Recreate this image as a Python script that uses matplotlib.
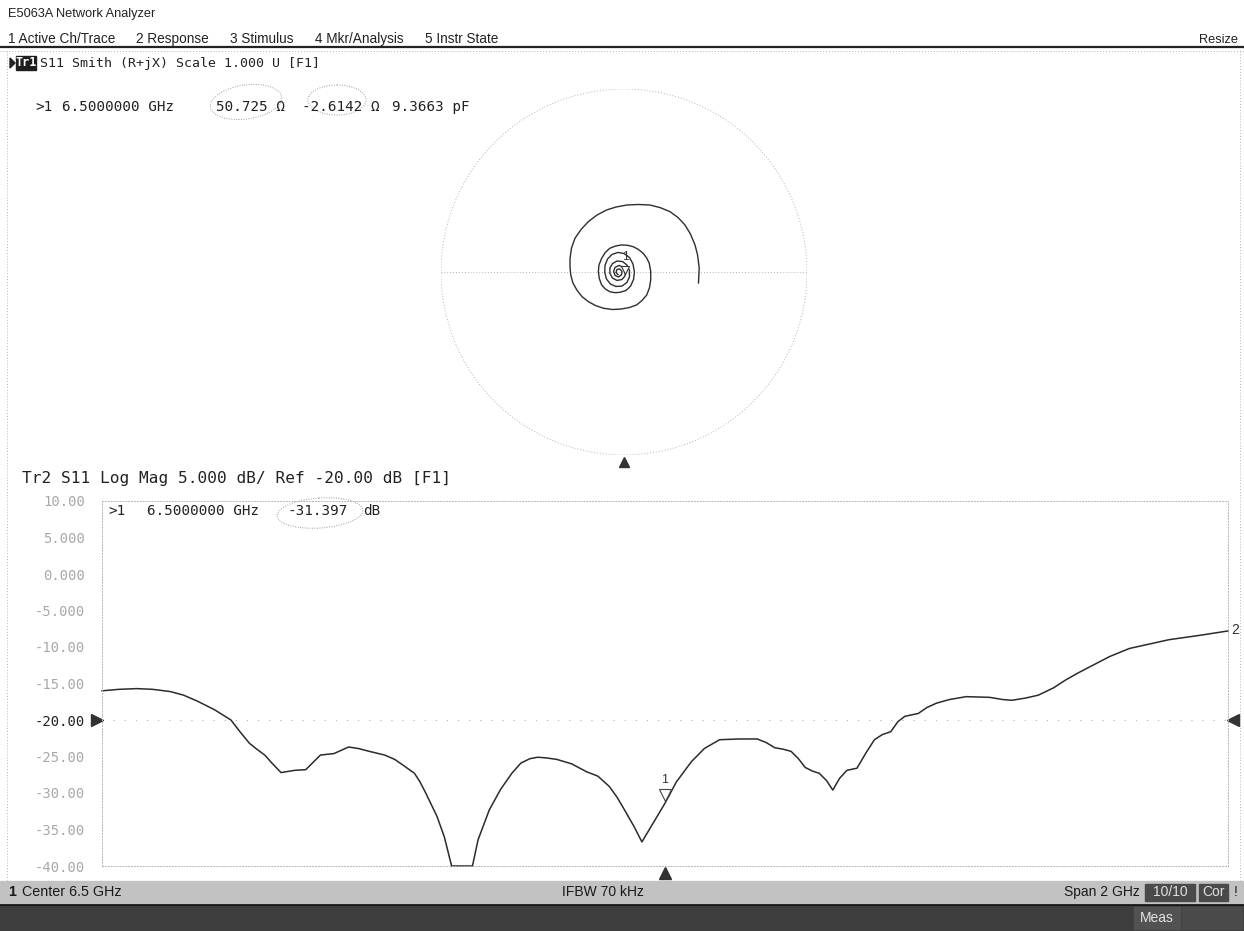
import matplotlib
matplotlib.use('Agg')
import matplotlib.pyplot as plt
from matplotlib.patches import Rectangle, Circle, Polygon, Ellipse
import matplotlib.transforms as mtransforms

# ---------------- data ----------------
freq_ghz = [5.500, 5.530, 5.562, 5.590, 5.621, 5.645, 5.669, 5.700, 5.729, 5.745,
            5.762, 5.775, 5.789, 5.803, 5.818, 5.842, 5.862, 5.875, 5.888, 5.912,
            5.938, 5.955, 5.975, 6.002, 6.020, 6.035, 6.055, 6.065, 6.075, 6.085,
            6.095, 6.108, 6.121, 6.158, 6.168, 6.188, 6.208, 6.228, 6.244, 6.260,
            6.274, 6.290, 6.308, 6.334, 6.361, 6.381, 6.401, 6.415, 6.428, 6.445,
            6.459, 6.500, 6.520, 6.547, 6.570, 6.597, 6.632, 6.664, 6.680, 6.695,
            6.710, 6.724, 6.737, 6.749, 6.762, 6.774, 6.787, 6.798, 6.810, 6.823,
            6.841, 6.857, 6.872, 6.886, 6.901, 6.914, 6.926, 6.950, 6.965, 6.982,
            7.005, 7.035, 7.077, 7.100, 7.116, 7.140, 7.163, 7.190, 7.212, 7.235,
            7.255, 7.290, 7.325, 7.360, 7.395, 7.450, 7.500]
s11_db = [-16.0, -15.8, -15.7, -15.8, -16.1, -16.6, -17.4, -18.6, -20.0, -21.6,
          -23.2, -24.0, -24.8, -26.0, -27.2, -26.9, -26.8, -25.8, -24.8, -24.6,
          -23.7, -23.9, -24.3, -24.8, -25.4, -26.2, -27.3, -28.5, -30.0, -31.6,
          -33.2, -36.0, -40.0, -40.0, -36.4, -32.3, -29.5, -27.3, -25.9, -25.3,
          -25.1, -25.2, -25.4, -26.0, -27.1, -27.7, -29.1, -30.6, -32.3, -34.6,
          -36.7, -31.4, -28.5, -25.7, -23.9, -22.7, -22.6, -22.6, -23.1, -23.8,
          -24.0, -24.3, -25.3, -26.5, -27.0, -27.3, -28.3, -29.6, -28.0, -26.9,
          -26.6, -24.5, -22.7, -22.0, -21.6, -20.2, -19.5, -19.1, -18.3, -17.7,
          -17.2, -16.8, -16.9, -17.2, -17.3, -17.0, -16.6, -15.6, -14.5, -13.5,
          -12.7, -11.3, -10.2, -9.6, -9.0, -8.4, -7.8]

gamma_re = [-0.033, -0.044, -0.038, -0.022, -0.011, -0.014, -0.030, -0.049, -0.057, -0.049,
            -0.027, -0.005, 0.008, 0.005, -0.011, -0.038, -0.063, -0.077, -0.077, -0.063,
            -0.038, -0.008, 0.016, 0.030, 0.030, 0.016, -0.011, -0.044, -0.074, -0.096,
            -0.105, -0.104, -0.090, -0.066, -0.033, 0.000, 0.030, 0.049, 0.057, 0.052,
            0.036, 0.011, -0.022, -0.049, -0.077, -0.102, -0.122, -0.135, -0.140, -0.137,
            -0.122, -0.102, -0.077, -0.046, -0.013, 0.019, 0.051, 0.079, 0.105, 0.124,
            0.138, 0.146, 0.146, 0.139, 0.124, 0.098, 0.069, 0.030, -0.013, -0.063,
            -0.113, -0.156, -0.195, -0.230, -0.258, -0.279, -0.291, -0.295, -0.295, -0.287,
            -0.268, -0.235, -0.195, -0.148, -0.095, -0.044, 0.015, 0.077, 0.142, 0.197,
            0.251, 0.295, 0.333, 0.363, 0.388, 0.402, 0.411, 0.407]
gamma_im = [-0.014, -0.003, 0.014, 0.016, 0.003, -0.016, -0.027, -0.019, 0.003, 0.025,
            0.036, 0.027, 0.005, -0.022, -0.041, -0.046, -0.033, -0.008, 0.022, 0.046,
            0.060, 0.057, 0.038, 0.008, -0.027, -0.057, -0.077, -0.079, -0.066, -0.038,
            -0.003, 0.036, 0.071, 0.096, 0.107, 0.101, 0.079, 0.044, 0.000, -0.041,
            -0.077, -0.101, -0.111, -0.113, -0.108, -0.093, -0.071, -0.036, 0.002, 0.038,
            0.075, 0.107, 0.130, 0.142, 0.148, 0.146, 0.138, 0.123, 0.102, 0.077,
            0.048, 0.003, -0.044, -0.087, -0.126, -0.156, -0.180, -0.194, -0.202, -0.205,
            -0.198, -0.183, -0.162, -0.134, -0.098, -0.060, -0.016, 0.027, 0.075, 0.131,
            0.184, 0.232, 0.275, 0.311, 0.339, 0.355, 0.366, 0.369, 0.366, 0.352,
            0.330, 0.298, 0.257, 0.208, 0.148, 0.093, 0.022, -0.060]

db_ticks = [10, 5, 0, -5, -10, -15, -20, -25, -30, -35, -40]
db_tick_labels = ['10.00', '5.000', '0.000', '-5.000', '-10.00', '-15.00',
                  '-20.00', '-25.00', '-30.00', '-35.00', '-40.00']
ref_level = -20.0
marker_freq = 6.5
marker_db = -31.397
marker_r, marker_x = 50.725, -2.6142
z0 = 50.0

menu_items = ['1 Active Ch/Trace', '2 Response', '3 Stimulus', '4 Mkr/Analysis', '5 Instr State']

# ---------------- figure ----------------
W, H = 1244, 931
fig = plt.figure(figsize=(W / 100, H / 100), dpi=100)
fig.patch.set_facecolor('white')

cv = fig.add_axes([0, 0, 1, 1])
cv.set_xlim(0, W)
cv.set_ylim(H, 0)
cv.axis('off')

SANS = ['Liberation Sans', 'DejaVu Sans']
MONO = ['DejaVu Sans Mono']
DOT = (0, (1, 2))
GRAYLINE = '#b4b4b4'

# title & menu
cv.text(8, 14, 'E5063A Network Analyzer', family=SANS, fontsize=9.2, va='center', color='#222')
renderer = fig.canvas.get_renderer()
menu_texts = [cv.text(0, 39, item, family=SANS, fontsize=9.8, va='center', color='#222')
              for item in menu_items]
widths = [t.get_window_extent(renderer=renderer).width for t in menu_texts]
menu_start, menu_end = 8, 498
gap = (menu_end - menu_start - sum(widths)) / (len(widths) - 1)
xpos = menu_start
for t, w in zip(menu_texts, widths):
    t.set_x(xpos)
    xpos += w + gap
cv.text(1238, 40, 'Resize', family=SANS, fontsize=9.2, va='center', ha='right', color='#222')
cv.plot([0, W], [47, 47], color='#222', lw=1.6)
cv.plot([0, W], [51, 51], color=GRAYLINE, lw=0.7, ls=DOT)
cv.plot([7, 7], [51, 880], color=GRAYLINE, lw=0.7, ls=DOT)
cv.plot([1240, 1240], [51, 880], color=GRAYLINE, lw=0.7, ls=DOT)

# Tr1 header
cv.add_patch(Polygon([[10, 58], [10, 68], [15, 63]], closed=True, color='#222'))
cv.add_patch(Rectangle((16, 56), 20, 14, color='#1e1e1e'))
cv.text(26, 63, 'Tr1', family=MONO, fontsize=8.5, va='center', ha='center', color='white', weight='bold')
cv.text(40, 63, 'S11 Smith (R+jX) Scale 1.000 U [F1]', family=MONO, fontsize=9.5, va='center', color='#222')

# Tr1 marker readout
cv.text(35, 107, '>1', family=MONO, fontsize=10.3, va='center', color='#222')
cv.text(62, 107, '6.5000000 GHz', family=MONO, fontsize=10.3, va='center', color='#222')
cv.text(216, 107, '50.725 Ω', family=MONO, fontsize=10.3, va='center', color='#222')
cv.text(302, 107, '-2.6142 Ω', family=MONO, fontsize=10.3, va='center', color='#222')
cv.text(392, 107, '9.3663 pF', family=MONO, fontsize=10.3, va='center', color='#222')
cv.add_patch(Ellipse((246, 102), 72, 34, angle=-8, fill=False, ls=(0, (1, 1.5)), color='#9a9a9a', lw=0.7))
cv.add_patch(Ellipse((337, 100), 58, 30, angle=0, fill=False, ls=(0, (1, 1.5)), color='#9a9a9a', lw=0.7))

# Tr2 header
cv.text(22, 478, 'Tr2 S11 Log Mag 5.000 dB/ Ref -20.00 dB [F1]', family=MONO, fontsize=11.6,
        va='center', color='#222')

# marker readout in log mag
cv.text(108, 511, '>1', family=MONO, fontsize=10.3, va='center', color='#222')
cv.text(147, 511, '6.5000000 GHz', family=MONO, fontsize=10.3, va='center', color='#222')
cv.text(287, 511, '-31.397', family=MONO, fontsize=10.3, va='center', color='#222')
cv.text(363, 511, 'dB', family=MONO, fontsize=10.3, va='center', color='#222')
cv.add_patch(Ellipse((320, 513), 86, 30, angle=-4, fill=False, ls=(0, (1, 1.5)), color='#9a9a9a', lw=0.7))

# ---------------- Smith chart ----------------
sm = fig.add_axes([441 / W, 1 - 455 / H, 366 / W, 366 / H])
sm.set_facecolor('none')
sm.set_xlim(-1, 1)
sm.set_ylim(-1, 1)
sm.axis('off')
sm.add_patch(Circle((0, 0), 1, fill=False, ls=DOT, color=GRAYLINE, lw=0.7))
sm.plot([-1, 1], [0, 0], ls=DOT, color=GRAYLINE, lw=0.7)
sm.plot(gamma_re, gamma_im, color='#2e2e2e', lw=1.0)
zm = complex(marker_r, marker_x) / z0
gm = (zm - 1) / (zm + 1)
tri_off = mtransforms.offset_copy(sm.transData, fig=fig, x=0, y=5, units='points')
sm.plot([gm.real], [gm.imag], marker='v', ms=6, mfc='white', mec='#333', mew=0.8, transform=tri_off)
sm.annotate('1', xy=(gm.real, gm.imag), xytext=(0, 14), textcoords='offset points',
            ha='center', va='center', fontsize=8.5, family=SANS, color='#333')
sm.plot([0], [-1.0], marker='^', ms=7, color='#333', clip_on=False,
        transform=mtransforms.offset_copy(sm.transData, fig=fig, x=0, y=-5, units='points'))

# ---------------- Log mag plot ----------------
lax = fig.add_axes([102 / W, 1 - 866 / H, 1126 / W, 365 / H])
lax.set_facecolor('none')
lax.set_xlim(freq_ghz[0], freq_ghz[-1])
lax.set_ylim(-40, 10)
lax.set_xticks([])
lax.set_yticks(db_ticks)
lax.set_yticklabels(db_tick_labels, family=MONO, fontsize=10)
for lbl, v in zip(lax.get_yticklabels(), db_ticks):
    lbl.set_color('#222' if v == ref_level else '#a8a8a8')
lax.tick_params(axis='y', length=0, pad=12)
for sp in lax.spines.values():
    sp.set_linestyle(DOT)
    sp.set_color(GRAYLINE)
    sp.set_linewidth(0.7)
lax.axhline(ref_level, ls=(0, (1, 9)), color='#b0b0b0', lw=0.8)
lax.plot(freq_ghz, s11_db, color='#2b2b2b', lw=1.1, clip_on=False)

bt = mtransforms.blended_transform_factory(lax.transAxes, lax.transData)
lax.plot([-0.004], [ref_level], marker='>', ms=8, color='#333', transform=bt, clip_on=False)
lax.plot([1.004], [ref_level], marker='<', ms=8, color='#333', transform=bt, clip_on=False)
bx = mtransforms.blended_transform_factory(lax.transData, lax.transAxes)
lax.plot([marker_freq], [-0.02], marker='^', ms=8, color='#333', transform=bx, clip_on=False)
m_off = mtransforms.offset_copy(lax.transData, fig=fig, x=0, y=6, units='points')
lax.plot([marker_freq], [marker_db], marker='v', ms=8, mfc='white', mec='#444', mew=0.8,
         transform=m_off, clip_on=False)
lax.annotate('1', xy=(marker_freq, marker_db), xytext=(0, 17), textcoords='offset points',
             ha='center', va='center', fontsize=9, family=SANS, color='#333')
lax.annotate('2', xy=(freq_ghz[-1], s11_db[-1]), xytext=(2, 1), textcoords='offset points',
             ha='left', va='center', fontsize=10, family=SANS, color='#333', annotation_clip=False)

# ---------------- status bars ----------------
cv.add_patch(Rectangle((0, 881), W, 23, color='#c2c2c2', zorder=1))
cv.plot([0, W], [904.5, 904.5], color='#111', lw=1.2, zorder=2)
cv.add_patch(Rectangle((0, 905), W, 26, color='#3e3e3e', zorder=1))
cv.text(8, 892, '1', family=SANS, fontsize=10.3, va='center', color='#1a1a1a', zorder=3, weight='bold')
cv.text(22, 892, 'Center 6.5 GHz', family=SANS, fontsize=10.3, va='center', color='#1a1a1a', zorder=3)
cv.text(562, 892, 'IFBW 70 kHz', family=SANS, fontsize=10, va='center', color='#1a1a1a', zorder=3)
cv.text(1140, 892, 'Span 2 GHz', family=SANS, fontsize=10, va='center', ha='right', color='#1a1a1a', zorder=3)
cv.add_patch(Rectangle((1145, 884), 50, 17, color='#4a4a4a', zorder=2))
cv.text(1170, 892.5, '10/10', family=SANS, fontsize=10, va='center', ha='center', color='#e0e0e0', zorder=3)
cv.add_patch(Rectangle((1199, 884), 29, 17, color='#4a4a4a', zorder=2))
cv.text(1213.5, 892.5, 'Cor', family=SANS, fontsize=10, va='center', ha='center', color='#e0e0e0', zorder=3)
cv.text(1236, 892, '!', family=SANS, fontsize=10, va='center', ha='center', color='#1a1a1a', zorder=3)
cv.add_patch(Rectangle((1134, 907), 46, 22, color='#525252', zorder=2))
cv.add_patch(Rectangle((1182, 907), 60, 22, color='#4a4a4a', zorder=2))
cv.text(1157, 918, 'Meas', family=SANS, fontsize=10, va='center', ha='center', color='#e4e4e4', zorder=3)

fig.savefig('out.png', dpi=100, facecolor='white')
